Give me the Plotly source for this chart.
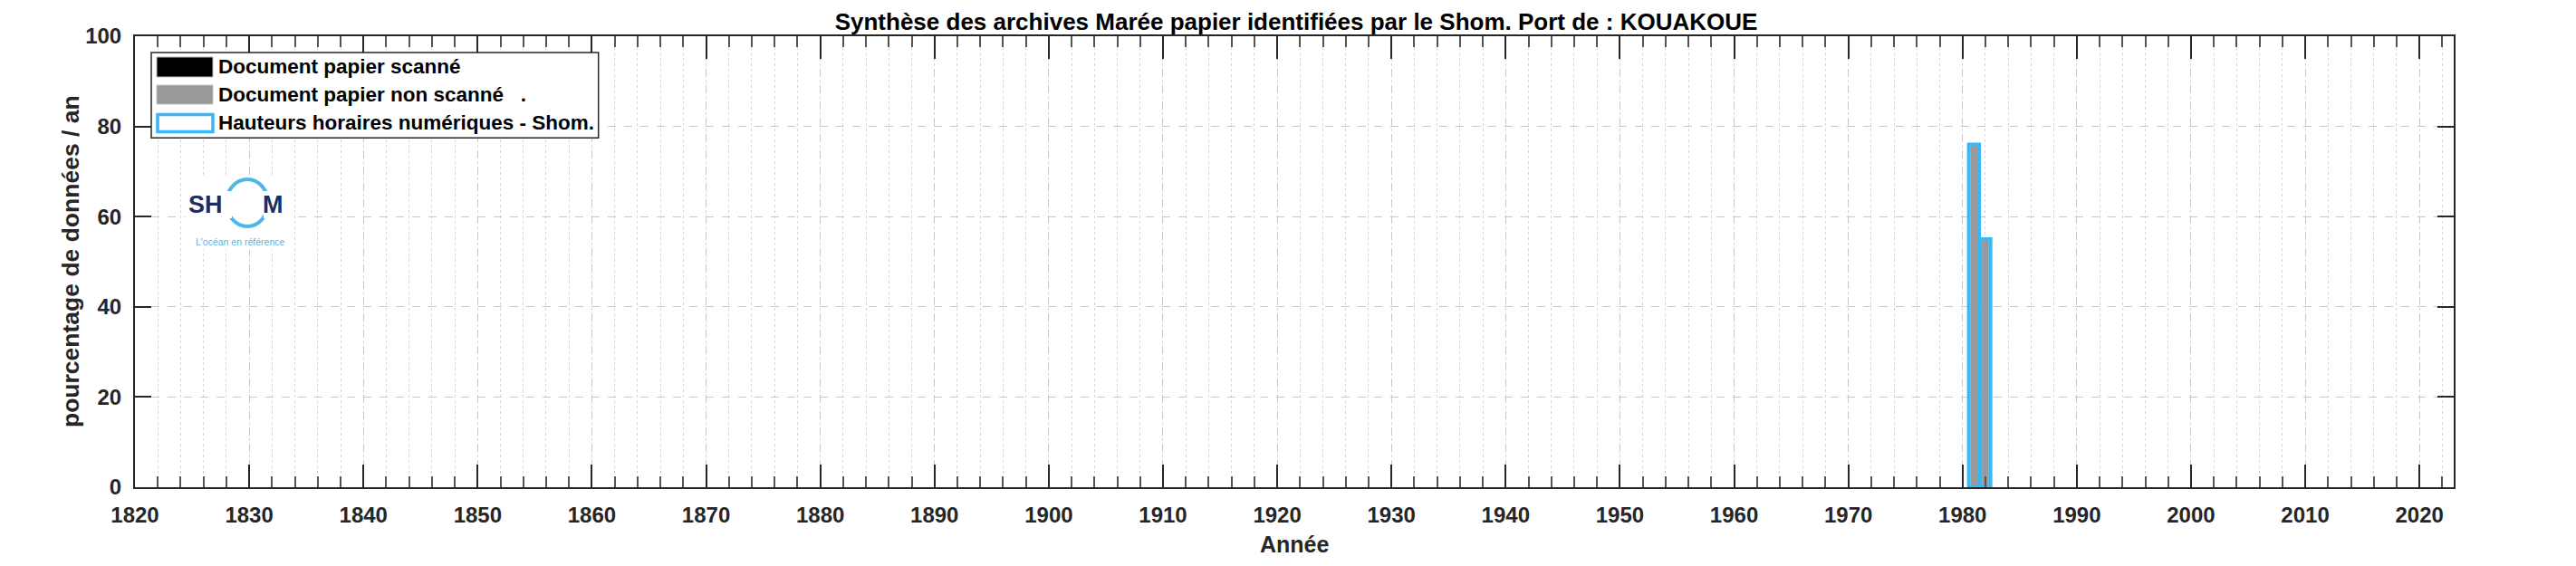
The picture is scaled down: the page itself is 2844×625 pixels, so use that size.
import plotly.graph_objects as go

# ---------------- data ----------------
years = [1981, 1982]
papier_scanne = [0, 0]
papier_non_scanne = [76, 55]
hauteurs_numeriques = [76, 55]

x_tickvals = list(range(1820, 2021, 10))
y_tickvals = [0, 20, 40, 60, 80, 100]

title_text = "Synthèse des archives Marée papier identifiées par le Shom. Port de : KOUAKOUE"
legend_labels = ["Document papier scanné", "Document papier non scanné   .",
                 "Hauteurs horaires numériques - Shom."]

# ---------------- style ----------------
W, H = 2844, 625
L, R, T, B = 141, 2701, 32, 530
FONT = "Liberation Sans, Arial, Helvetica, sans-serif"
AX = "#262626"
BLUE = "#38B6F5"
GREY = "#999999"


def px(x):
    return (x - L) / (R - L)


def py(y):
    return (B - y) / (B - T)


fig = go.Figure()
fig.add_trace(go.Bar(x=years, y=papier_scanne, width=0.6, marker=dict(color="black", line_width=0),
                     name=legend_labels[0], showlegend=False))
fig.add_trace(go.Bar(x=years, y=papier_non_scanne, width=0.6, marker=dict(color=GREY, line_width=0),
                     name=legend_labels[1], showlegend=False))
fig.add_trace(go.Bar(x=years, y=hauteurs_numeriques, width=0.9,
                     marker=dict(color="rgba(0,0,0,0)", line=dict(color=BLUE, width=4)),
                     name=legend_labels[2], showlegend=False))

fig.update_layout(
    width=W, height=H, barmode="overlay",
    margin=dict(l=L, r=W - R, t=T, b=H - B, pad=0),
    paper_bgcolor="white", plot_bgcolor="white",
    font=dict(family=FONT, color=AX),
    title=dict(text=title_text, x=px(1423), xref="paper", xanchor="center",
               y=1 - 16 / H, yref="container", yanchor="middle",
               font=dict(size=26, weight="bold", color="black")),
)

fig.update_xaxes(
    range=[1820, 2023], tickmode="array", tickvals=x_tickvals,
    ticks="inside", ticklen=25, tickwidth=1.5, tickcolor=AX,
    showline=True, linecolor=AX, linewidth=2, mirror="ticks",
    showgrid=True, gridcolor="#C8C8C8", griddash="dash", gridwidth=1.2,
    tickfont=dict(size=24, weight="bold", color=AX), ticklabelstandoff=8,
    minor=dict(dtick=2, tick0=1820, ticks="inside", ticklen=12, tickwidth=1.5, tickcolor="#555",
               showgrid=True, gridcolor="#D6D6D6", griddash="dot", gridwidth=1),
    zeroline=False,
)
fig.update_yaxes(
    range=[0, 100], tickmode="array", tickvals=y_tickvals,
    ticks="inside", ticklen=18, tickwidth=1.5, tickcolor=AX,
    showline=True, linecolor=AX, linewidth=2, mirror="ticks",
    showgrid=True, gridcolor="#C8C8C8", griddash="dash", gridwidth=1.2,
    tickfont=dict(size=24, weight="bold", color=AX), ticklabelstandoff=8,
    zeroline=False,
)

shapes = []
ann = []

# axis titles
ann.append(dict(text="Année", x=px(1421), y=py(593), xref="paper", yref="paper",
                showarrow=False, xanchor="center", yanchor="middle",
                font=dict(size=25, weight="bold", color=AX)))
ann.append(dict(text="pourcentage de données / an", x=px(70), y=py(281), xref="paper", yref="paper",
                showarrow=False, xanchor="center", yanchor="middle", textangle=-90,
                font=dict(size=26.5, weight="bold", color=AX)))

# custom legend
shapes.append(dict(type="rect", xref="paper", yref="paper", x0=px(159), x1=px(652.7), y0=py(50), y1=py(144.3),
                   line=dict(color=AX, width=1.5), fillcolor="white", layer="above"))
shapes.append(dict(type="rect", xref="paper", yref="paper", x0=px(165), x1=px(227), y0=py(55), y1=py(77),
                   line=dict(color="#BBBBBB", width=1), fillcolor="black", layer="above"))
shapes.append(dict(type="rect", xref="paper", yref="paper", x0=px(165), x1=px(227), y0=py(86), y1=py(107),
                   line=dict(color="#C4C4C4", width=1), fillcolor=GREY, layer="above"))
shapes.append(dict(type="rect", xref="paper", yref="paper", x0=px(166), x1=px(227), y0=py(118.5), y1=py(137.5),
                   line=dict(color=BLUE, width=3.5), fillcolor="white", layer="above"))
for lab, yc in zip(legend_labels, [66, 97, 128]):
    ann.append(dict(text=lab, x=px(231), y=py(yc), xref="paper", yref="paper", showarrow=False,
                    xanchor="left", yanchor="middle", font=dict(size=22.5, weight="bold", color="black")))

# SHOM logo (drawn)
NAVY = "#1D2E5E"
LBLUE = "#4DB8E8"
shapes.append(dict(type="rect", xref="paper", yref="paper", x0=px(196), x1=px(314), y0=py(186), y1=py(268),
                   line=dict(width=0), fillcolor="white", layer="above"))
shapes.append(dict(type="circle", xref="paper", yref="paper", x0=px(242), x1=px(288), y0=py(190), y1=py(242),
                   line=dict(color=LBLUE, width=4), fillcolor="rgba(0,0,0,0)", layer="above"))
shapes.append(dict(type="rect", xref="paper", yref="paper", x0=px(236), x1=px(248), y0=py(203), y1=py(233),
                   line=dict(width=0), fillcolor="white", layer="above"))
shapes.append(dict(type="rect", xref="paper", yref="paper", x0=px(283), x1=px(294), y0=py(203), y1=py(233),
                   line=dict(width=0), fillcolor="white", layer="above"))
ann.append(dict(text="SH", x=px(240), y=py(218), xref="paper", yref="paper", showarrow=False,
                xanchor="right", yanchor="middle", font=dict(size=27, weight="bold", color=NAVY)))
ann.append(dict(text="M", x=px(280), y=py(218), xref="paper", yref="paper", showarrow=False,
                xanchor="left", yanchor="middle", font=dict(size=27, weight="bold", color=NAVY)))
ann.append(dict(text="L'océan en référence", x=px(257), y=py(259), xref="paper", yref="paper", showarrow=False,
                xanchor="center", yanchor="middle", font=dict(size=10.5, color=LBLUE)))

fig.update_layout(shapes=shapes, annotations=ann)
fig.write_html("out.html")
